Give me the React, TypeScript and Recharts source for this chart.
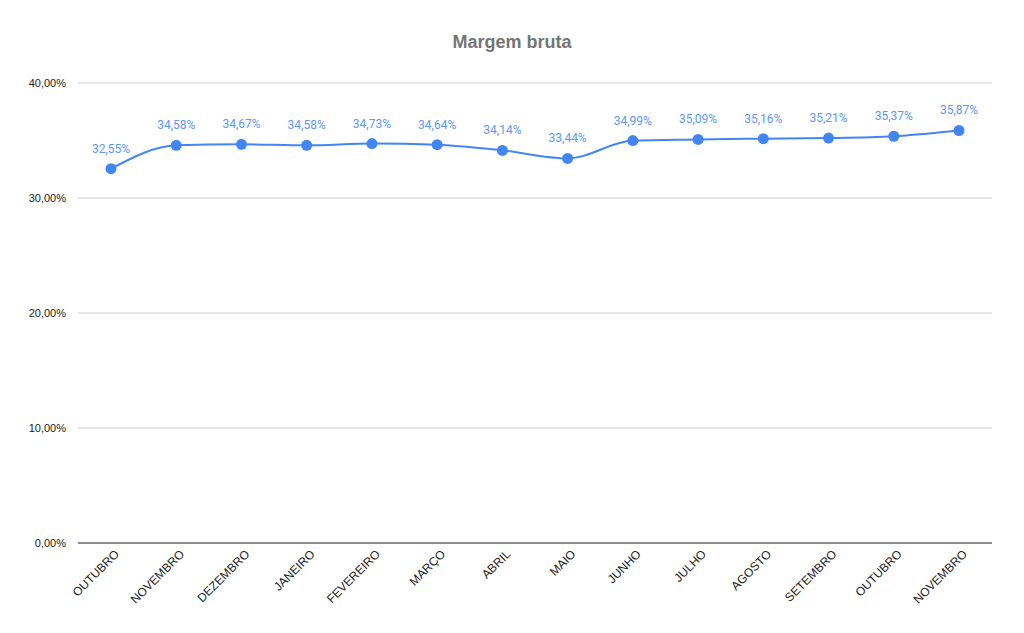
import { CartesianGrid, LabelList, Line, LineChart, XAxis, YAxis } from "recharts";

const MONTHS = [
  "OUTUBRO",
  "NOVEMBRO",
  "DEZEMBRO",
  "JANEIRO",
  "FEVEREIRO",
  "MARÇO",
  "ABRIL",
  "MAIO",
  "JUNHO",
  "JULHO",
  "AGOSTO",
  "SETEMBRO",
  "OUTUBRO",
  "NOVEMBRO",
];
const MARGEM = [32.55, 34.58, 34.67, 34.58, 34.73, 34.64, 34.14, 33.44, 34.99, 35.09, 35.16, 35.21, 35.37, 35.87];
const Y_TICKS = [0, 10, 20, 30, 40];

const data = MONTHS.map((m, i) => ({ key: `${m}-${i}`, month: m, value: MARGEM[i] }));

const pct = (v: number) => `${v.toFixed(2).replace(".", ",")}%`;

function MonthTick(props: any) {
  const { x, y, payload } = props;
  return (
    <g transform={`translate(${x + 6},${y + 1}) rotate(-45)`}>
      <text
        x={0}
        y={0}
        dy={4}
        textAnchor="end"
        fill="#222"
        fontSize={12}
        fontFamily="'Liberation Sans', Arial, sans-serif"
      >
        {MONTHS[payload.index] ?? payload.value}
      </text>
    </g>
  );
}

export default function App() {
  return (
    <div style={{ position: "absolute", left: 0, top: 0, width: 1024, height: 633, background: "#fff" }}>
      <div
        style={{
          position: "absolute",
          top: 32,
          width: 1024,
          textAlign: "center",
          fontFamily: "'Liberation Sans', Arial, sans-serif",
          fontWeight: "bold",
          fontSize: 18,
          color: "#757575",
        }}
      >
        Margem bruta
      </div>
      <LineChart width={1024} height={633} data={data} margin={{ top: 83, right: 32, bottom: 0, left: 0 }}>
        <CartesianGrid vertical={false} stroke="#d0d0d0" />
        <XAxis
          dataKey="key"
          axisLine={{ stroke: "#333" }}
          tickLine={false}
          interval={0}
          height={90}
          padding={{ left: 33, right: 33 }}
          tick={<MonthTick />}
        />
        <YAxis
          width={78}
          domain={[0, 40]}
          ticks={Y_TICKS}
          axisLine={false}
          tickLine={false}
          tickFormatter={(v: number) => pct(v)}
          tick={{ fill: "#222", fontSize: 11, fontFamily: "'Liberation Sans', Arial, sans-serif" }}
          tickMargin={6}
        />
        <Line
          type="monotone"
          dataKey="value"
          stroke="#4285f4"
          strokeWidth={2}
          dot={{ r: 5.5, fill: "#4285f4", stroke: "#4285f4", strokeWidth: 0 }}
          activeDot={false}
          isAnimationActive={false}
        >
          <LabelList
            dataKey="value"
            position="top"
            offset={16}
            formatter={(v: any) => pct(Number(v))}
            fill="#5e97f6"
            fontSize={12}
            fontFamily="Roboto, sans-serif"
          />
        </Line>
      </LineChart>
    </div>
  );
}
